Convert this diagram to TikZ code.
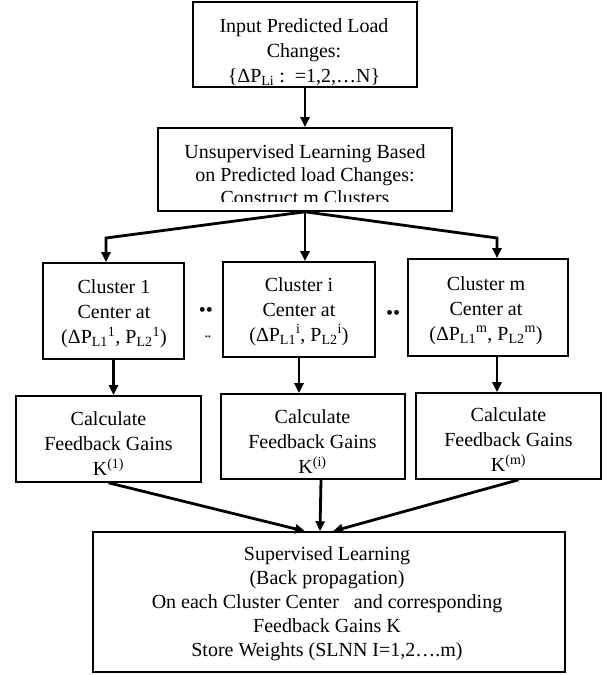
\documentclass[tikz,border=0pt]{standalone}
\usepackage{fontspec}
\setmainfont{Liberation Serif}
\usetikzlibrary{arrows.meta}

\begin{document}
\begin{tikzpicture}
	[x=1pt,y=-1pt,
	every node/.style={inner sep=0pt, align=center,
		font=\fontsize{20}{25}\selectfont},
	box/.style={draw=black, line width=1.6pt},
	arr/.style={line width=2.8pt, -{Triangle[length=10pt,width=9pt]}}]
	\useasboundingbox (0,0) rectangle (610,675);

	%% frames
	\node[box, minimum width=224pt, minimum height=85pt] (inp) at (305,44.5) {};
	\node[box, minimum width=294pt, minimum height=83pt] (unsup) at (305,169.5) {};
	\node[box, minimum width=141pt, minimum height=96pt] (c1) at (113.5,311) {};
	\node[box, minimum width=152pt, minimum height=95pt] (ci) at (299,309.5) {};
	\node[box, minimum width=160pt, minimum height=97pt] (cm) at (488,307.5) {};
	\node[box, minimum width=185pt, minimum height=86pt] (k1) at (108.5,439) {};
	\node[box, minimum width=184pt, minimum height=85pt] (ki) at (313,436.5) {};
	\node[box, minimum width=185pt, minimum height=86pt] (km) at (508.5,436) {};
	\node[box, minimum width=472pt, minimum height=140pt] (sup) at (329,602) {};

	%% texts
	\node (inptxt) at (304,52.5)
		{Input Predicted Load\\ Changes:\\
		\{ΔP\textsubscript{Li} :\ \ =1,2,…N\}};
	\begin{scope}
		\clip (160,131) rectangle (450,201.5);
		\node[font=\fontsize{20}{23}\selectfont] (unsuptxt) at (305,175)
			{Unsupervised Learning Based\\ on Predicted load Changes:\\
			Construct m Clusters};
	\end{scope}

	\node (c1txt) at (114,314)
		{Cluster 1\\ Center at\\
		(ΔP\textsubscript{L1}\textsuperscript{1}, P\textsubscript{L2}\textsuperscript{1})};
	\node (citxt) at (299,311.5)
		{Cluster i\\ Center at\\
		(ΔP\textsubscript{L1}\textsuperscript{i}, P\textsubscript{L2}\textsuperscript{i})};
	\node (cmtxt) at (486,310.5)
		{Cluster m\\ Center at\\
		(ΔP\textsubscript{L1}\textsuperscript{m}, P\textsubscript{L2}\textsuperscript{m})};

	\node (d1) at (206,312) {••};
	\node (d1b) at (208,338) {\fontsize{8}{8}\selectfont ••};
	\node (d2) at (393,315) {••};

	\node (k1txt) at (108.5,444)
		{Calculate\\ Feedback Gains\\ K\textsuperscript{(1)}};
	\node (kitxt) at (312.5,442)
		{Calculate\\ Feedback Gains\\ K\textsuperscript{(i)}};
	\node (kmtxt) at (508.5,440)
		{Calculate\\ Feedback Gains\\ K\textsuperscript{(m)}};

	\node[font=\fontsize{20}{24}\selectfont] (suptxt) at (327,604)
		{Supervised Learning\\ (Back propagation)\\
		On each Cluster Center\ \ \ and corresponding\\
		Feedback Gains K\\ Store Weights (SLNN I=1,2….m)};

	%% connectors
	\coordinate (bl) at (106,238);
	\coordinate (br) at (497,238);

	\draw[arr] (inp) -- (unsup);
	\draw[arr] (unsup.south) -- (bl) -- (bl |- c1.north);
	\draw[arr] (unsup.south) -- (unsup.south |- ci.north);
	\draw[arr] (unsup.south) -- (br) -- (br |- cm.north);

	\draw[arr] (c1.south) -- (c1.south |- k1.north);
	\draw[arr] (ci.south) -- (ci.south |- ki.north);
	\draw[arr] ([xshift=9pt]cm.south) -- ([xshift=9pt]cm.south |- km.north);

	\draw[arr] (k1.south) -- ([xshift=-24pt]sup.north);
	\draw[arr] ([xshift=8pt]ki.south) -- ([xshift=-9pt]sup.north);
	\draw[arr] ([xshift=10pt]km.south) -- ([xshift=4pt]sup.north);
\end{tikzpicture}
\end{document}
